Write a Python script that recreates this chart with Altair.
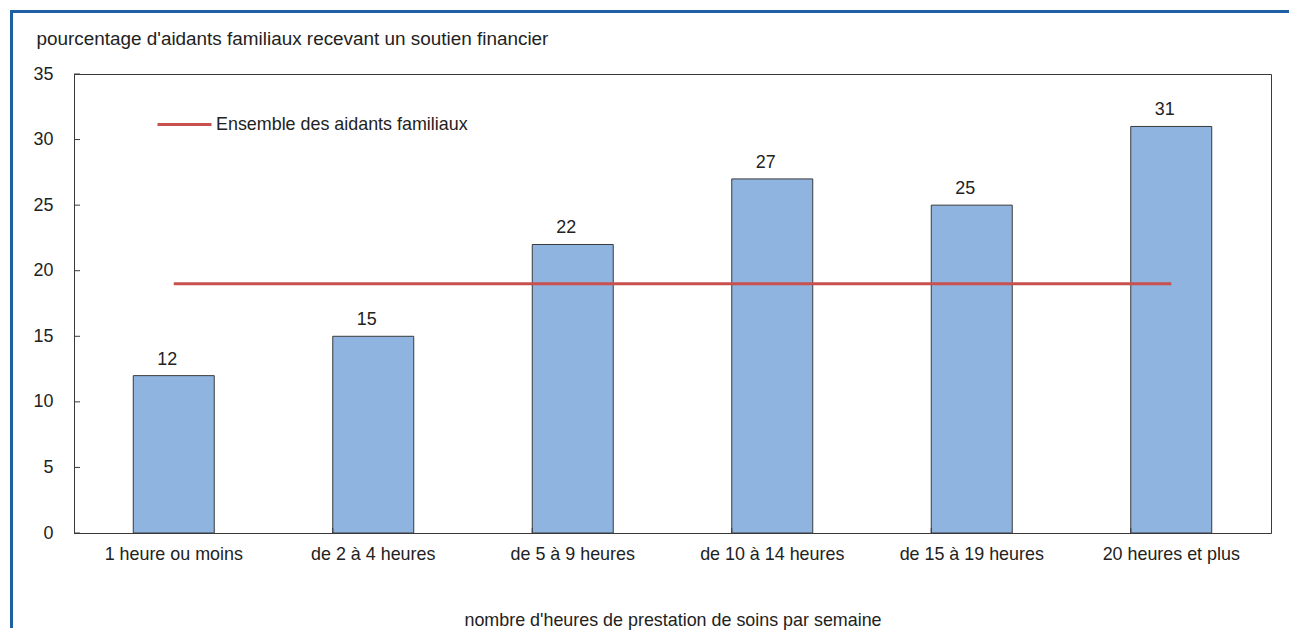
import altair as alt
import pandas as pd

categories = ["1 heure ou moins", "de 2 à 4 heures", "de 5 à 9 heures",
              "de 10 à 14 heures", "de 15 à 19 heures", "20 heures et plus"]
values = [12, 15, 22, 27, 25, 31]
overall_value = 19
overall_label = "Ensemble des aidants familiaux"
y_ticks = [0, 5, 10, 15, 20, 25, 30, 35]
y_title = "pourcentage d'aidants familiaux recevant un soutien financier"
x_title = "nombre d'heures de prestation de soins par semaine"

W, H = 1197, 459
FONT = "Liberation Sans"
FS = 17.9
TFS = 18.9
TXT = "#222222"
BAR = "#8FB4E0"
RED = "#C8504E"
FRAME = "#1F5FA6"
DARK = "#3a3a3a"

bars_df = pd.DataFrame({"cat": categories, "val": values})
line_df = pd.DataFrame({"cat": categories, "val": [overall_value] * len(categories),
                        "serie": [overall_label] * len(categories)})
xtick_df = pd.DataFrame({"cat": categories[1:]})
ytick_df = pd.DataFrame({"val": y_ticks})
one = pd.DataFrame({"a": [0]})

xscale = alt.Scale(domain=categories, paddingInner=0.594, paddingOuter=0.297)
yscale = alt.Scale(domain=[0, 35], nice=False)

xaxis = alt.Axis(title=x_title, titleFont=FONT, titleFontSize=FS, titleFontWeight="normal",
                 titleColor=TXT, titleX=W / 2, titleY=92, titleAlign="center",
                 titleBaseline="alphabetic", labelAngle=0, labelFont=FONT, labelFontSize=FS,
                 labelColor=TXT, labelBaseline="alphabetic", labelPadding=26, labelLimit=0,
                 ticks=False, tickSize=0, grid=False, domainColor=DARK, domainWidth=1)
yaxis = alt.Axis(values=y_ticks, title=y_title, titleFont=FONT, titleFontSize=TFS,
                 titleFontWeight="normal", titleColor=TXT, titleAngle=0, titleX=-38, titleY=-30,
                 titleAlign="left", titleBaseline="alphabetic", labelFont=FONT, labelFontSize=FS,
                 labelColor=TXT, labelPadding=21, ticks=False, tickSize=0, grid=False,
                 domainColor=DARK, domainWidth=1)

X = alt.X("cat:N", sort=categories, scale=xscale, axis=xaxis)
Y = alt.Y("val:Q", scale=yscale, axis=yaxis)

frame_left = alt.Chart(one).mark_rule(color=FRAME, strokeWidth=3).encode(
    x=alt.value(-62.5), y=alt.value(-64), y2=alt.value(554))
frame_top = alt.Chart(one).mark_rule(color=FRAME, strokeWidth=3).encode(
    y=alt.value(-62.5), x=alt.value(-64), x2=alt.value(1215))

bars = alt.Chart(bars_df).mark_bar(color=BAR, stroke=DARK, strokeWidth=1).encode(x=X, y=Y)

line = alt.Chart(line_df).mark_line(strokeWidth=3).encode(
    x=X, y=Y,
    color=alt.Color("serie:N", scale=alt.Scale(domain=[overall_label], range=[RED]),
                    legend=alt.Legend(orient="none", legendX=82, legendY=22, title=None,
                                      symbolType="stroke", symbolSize=2916,
                                      symbolStrokeWidth=3, labelFont=FONT, labelFontSize=FS,
                                      labelColor=TXT, labelOffset=3, padding=0, labelLimit=0)))

labels = alt.Chart(bars_df).mark_text(font=FONT, fontSize=FS, color=TXT, baseline="alphabetic",
                                      dy=-11, dx=-6.5).encode(x=X, y=Y, text="val:Q")

xticks = alt.Chart(xtick_df).mark_rule(color=DARK, strokeWidth=1).encode(
    x=alt.X("cat:N", sort=categories, scale=xscale, axis=xaxis, bandPosition=0),
    y=alt.value(H - 5), y2=alt.value(H))
yticks = alt.Chart(ytick_df).mark_rule(color=DARK, strokeWidth=1).encode(
    y=Y, x=alt.value(0), x2=alt.value(6))

chart = alt.layer(frame_left, frame_top, bars, line, labels, xticks, yticks).properties(
    width=W, height=H, padding={"left": 0, "top": 0, "right": 0, "bottom": 0},
    background="white"
).configure_view(stroke=DARK, strokeWidth=1)

chart.save("out.html", embed_options={"renderer": "svg", "actions": False})
